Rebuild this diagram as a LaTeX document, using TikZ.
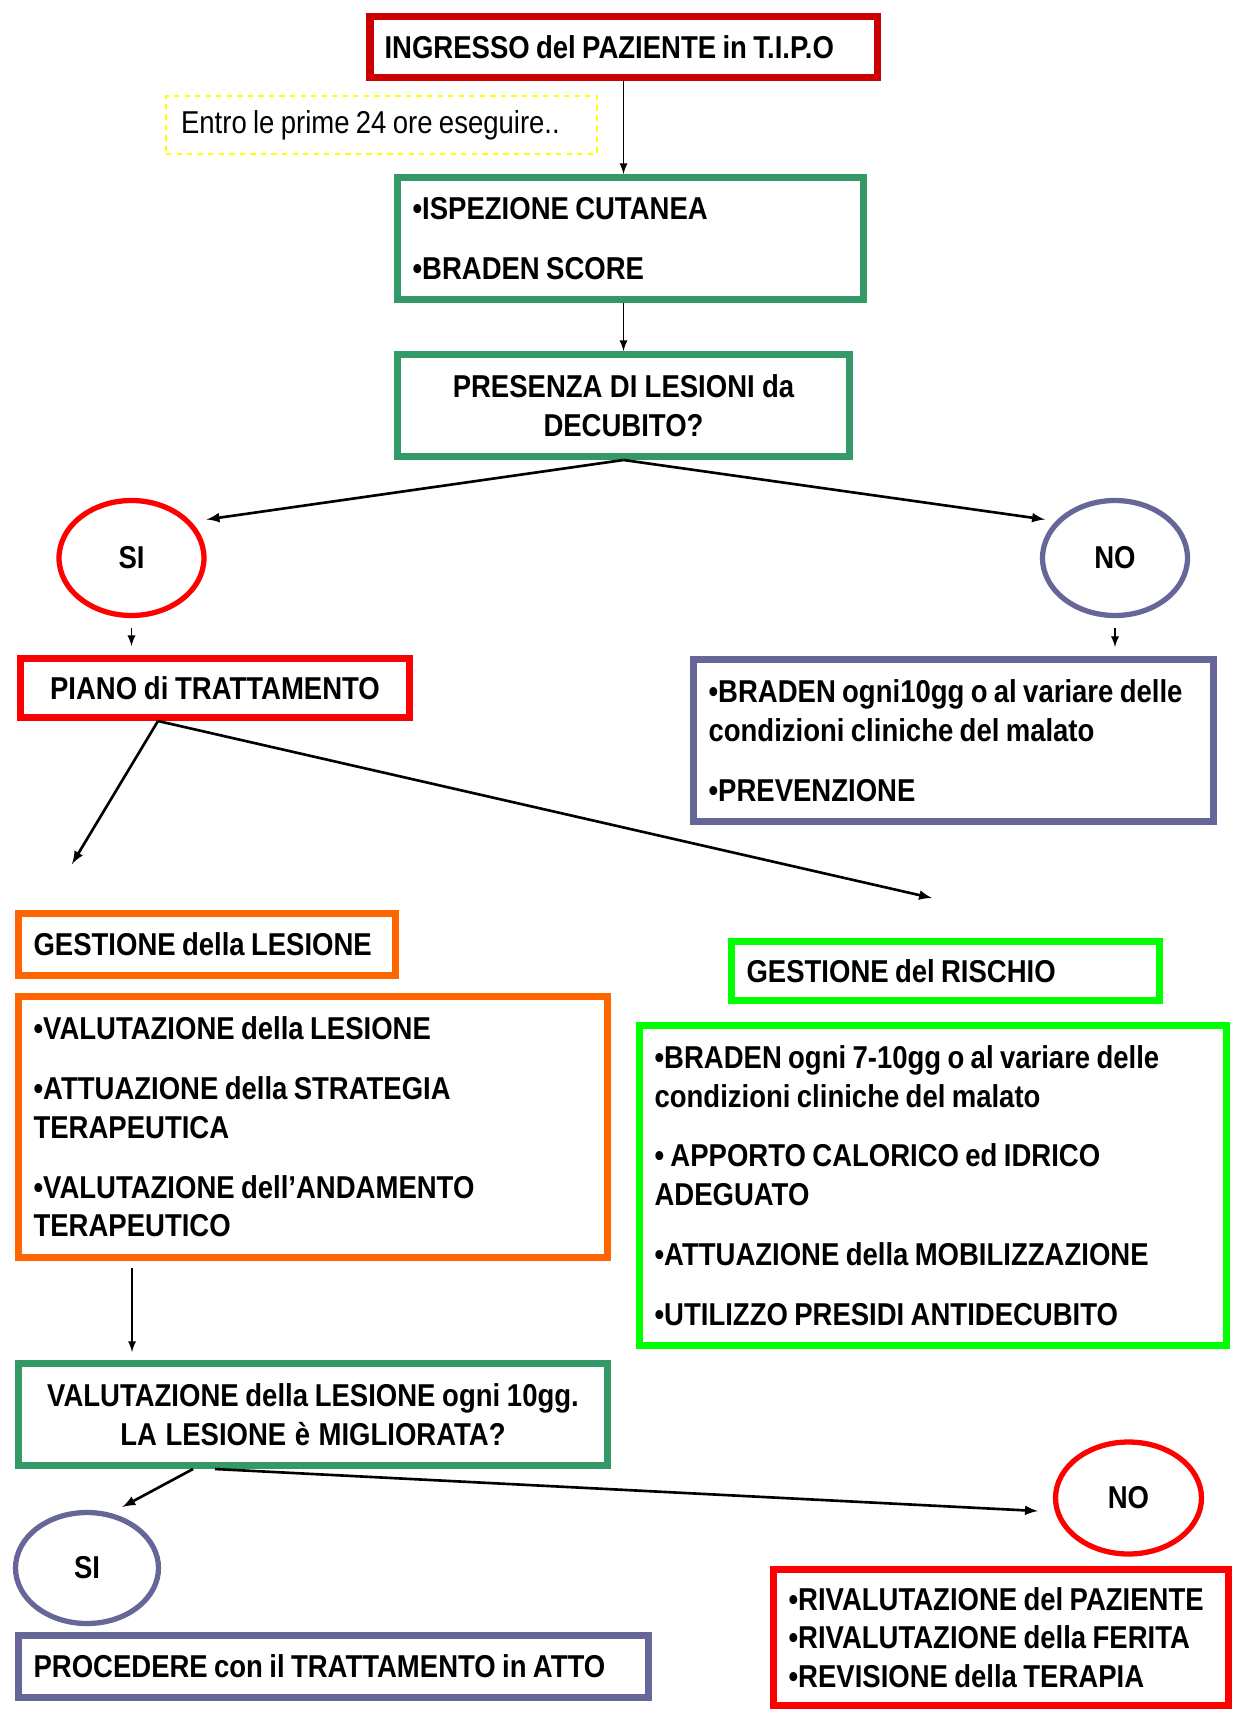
\documentclass[tikz,border=0pt]{standalone}
\usepackage{fontspec}
\setmainfont{Liberation Sans}[FakeStretch=0.87]
\usepackage{tikz}
\usetikzlibrary{positioning,arrows,shapes,calc}

\definecolor{rossoscuro}{HTML}{CC0000}
\definecolor{rosso}{HTML}{FF0000}
\definecolor{verde}{HTML}{339966}
\definecolor{verdechiaro}{HTML}{00FF00}
\definecolor{arancio}{HTML}{FF6600}
\definecolor{lilla}{HTML}{666699}
\definecolor{giallo}{HTML}{FFFF00}

\newcommand{\spazio}{\spaceskip=0.2em plus 0.05em\relax}

\begin{document}
\begin{tikzpicture}
 		[x=0.02cm, y=-0.02cm,
 		font=\fontsize{18}{22}\selectfont\bfseries,
 		every node/.style={rectangle, inner xsep=0.3cm, inner ysep=0pt, align=left, execute at begin node=\spazio},
 		box/.style={draw=#1, line width=4pt},
 		oval/.style={ellipse, draw=#1, line width=3pt, inner sep=0pt, align=center},
 		arr/.style={-latex, line width=1.1pt},
 		arrb/.style={-latex, line width=1.5pt},
 		]
 		\useasboundingbox (0,0) rectangle (1232,1709);
 		
 		% ingresso
 		\node[box=rossoscuro, line width=4.5pt, text width=9.56cm, minimum height=1.22cm] (ingresso) at (623.5,47) {INGRESSO del PAZIENTE in T.I.P.O};
 		\node[draw=giallo, dashed, line width=1pt, text width=8.02cm, minimum height=1.16cm,
 			font=\fontsize{18}{22}\selectfont\mdseries] (nota) at (381.5,125) {Entro le prime 24 ore eseguire..};
 		\node[box=verde, text width=8.72cm, minimum height=2.44cm] (ispez) at (630.5,238.5)
 			{•ISPEZIONE CUTANEA\\[12pt]•BRADEN SCORE};
 		\node[box=verde, text width=8.44cm, minimum height=2.04cm, align=center] (presenza) at (623.5,405.5)
 			{PRESENZA DI LESIONI da\\DECUBITO?};
 		
 		% si / no
 		\node[oval=rosso, minimum width=2.9cm, minimum height=2.3cm] (si1) at (131.5,558) {SI};
 		\node[oval=lilla, minimum width=2.9cm, minimum height=2.3cm] (no1) at (1115,558) {NO};
 		\node[box=rosso, text width=7.18cm, minimum height=1.18cm, align=center] (piano) at (215,688) {PIANO di TRATTAMENTO};
 		\node[box=lilla, text width=9.8cm, minimum height=3.24cm] (braden) at (953.5,740.5)
 			{•BRADEN ogni10gg o al variare delle\\condizioni cliniche del malato\\[12pt]•PREVENZIONE};
 		
 		% gestione
 		\node[box=arancio, text width=6.94cm, minimum height=1.24cm] (gestles) at (207,944.5) {GESTIONE della LESIONE};
 		\node[box=arancio, text width=11.18cm, minimum height=5.22cm] (lesbox) at (313,1127)
 			{•VALUTAZIONE della LESIONE\\[12pt]•ATTUAZIONE della STRATEGIA\\TERAPEUTICA\\[12pt]•VALUTAZIONE dell’ANDAMENTO\\TERAPEUTICO};
 		\node[box=verdechiaro, text width=7.96cm, minimum height=1.18cm] (gestris) at (945.5,971) {GESTIONE del RISCHIO};
 		\node[box=verdechiaro, text width=11.14cm, minimum height=6.4cm] (risbox) at (933,1185.5)
 			{•BRADEN ogni 7-10gg o al variare delle\\condizioni cliniche del malato\\[12pt]• APPORTO CALORICO ed IDRICO\\ADEGUATO\\[12pt]•ATTUAZIONE della MOBILIZZAZIONE\\[12pt]•UTILIZZO PRESIDI ANTIDECUBITO};
 		
 		% valutazione
 		\node[box=verde, text width=11.18cm, minimum height=2.04cm, align=center] (valut) at (313,1414.5)
 			{VALUTAZIONE della LESIONE ogni 10gg.\\LA LESIONE è MIGLIORATA?};
 		\node[oval=lilla, minimum width=2.86cm, minimum height=2.22cm] (si2) at (87,1568) {SI};
 		\node[oval=rosso, minimum width=2.92cm, minimum height=2.24cm] (no2) at (1128.5,1498) {NO};
 		\node[box=lilla, text width=12cm, minimum height=1.24cm] (procedi) at (333.5,1666.5) {PROCEDERE con il TRATTAMENTO in ATTO};
 		\node[box=rosso, text width=8.5cm, minimum height=2.72cm] (rival) at (1001,1637.5)
 			{•RIVALUTAZIONE del PAZIENTE\\•RIVALUTAZIONE della FERITA\\•REVISIONE della TERAPIA};
 		
 		\coordinate (pstart) at ($(piano.south)+(-57,0)$);
 		\coordinate (lesend) at (72,864);
 		\coordinate (risend) at (932,898);
 		\coordinate (vsi) at ($(valut.south)+(-120,0)$);
 		\coordinate (vno) at ($(valut.south)+(-98,0)$);
 		
 		% frecce
 		\draw[arr] (ingresso.south) -- (ingresso.south |- ispez.north);
 		\draw[arr] (presenza.north |- ispez.south) -- (presenza.north);
 		\draw[arrb] (presenza.south) -- ([shift={(22,4)}]si1.north east);
 		\draw[arrb] (presenza.south) -- ([shift={(-17,4)}]no1.north west);
 		\draw[arr, shorten <=0.2cm, shorten >=0.18cm] (si1.south) -- (si1.south |- piano.north);
 		\draw[arr, shorten <=0.2cm, shorten >=0.18cm] (no1.south) -- (no1.south |- braden.north);
 		\draw[arrb] (pstart) -- (lesend);
 		\draw[arrb] (pstart) -- (risend);
 		\draw[arr, shorten <=0.14cm, shorten >=0.16cm] ([xshift=-3.62cm]lesbox.south) -- ([xshift=-3.62cm]lesbox.south |- valut.north);
 		\draw[arrb] (vsi) -- ([shift={(-17,-20)}]si2.north east);
 		\draw[arrb] (vno) -- ([shift={(-15,13)}]no2.west);
 		
 	\end{tikzpicture}
\end{document}
